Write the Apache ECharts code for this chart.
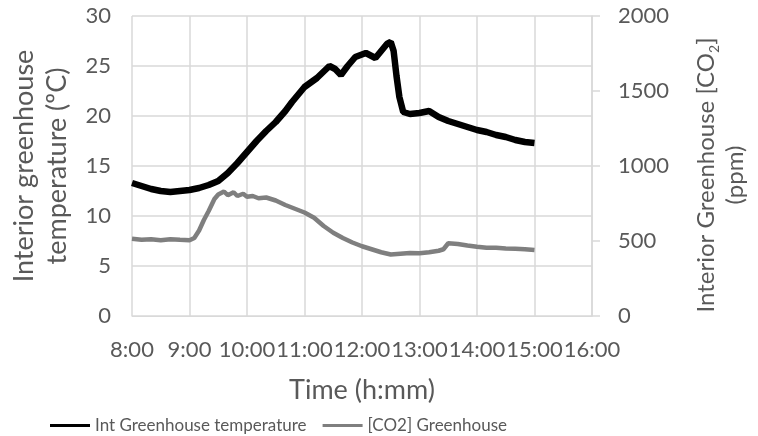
<!DOCTYPE html>
<html>
<head>
<meta charset="utf-8">
<script src="https://cdn.jsdelivr.net/npm/echarts@6/dist/echarts.min.js"></script>
<style>
  html, body { margin: 0; padding: 0; background: #fff; }
  #chart { width: 758px; height: 436px; }
</style>
</head>
<body>
<div id="chart"></div>
<script>
// minutes of the day (8:00 = 480)
var tempTimes = [480, 490, 500, 510, 520, 530, 540, 550, 560, 570, 580, 590, 600, 610, 620, 630, 640, 647, 660, 673,
  686, 692, 698, 705, 713, 724, 734, 740, 746, 750, 753, 756, 759, 763, 770, 780, 790, 800, 810, 820,
  830, 840, 850, 860, 870, 880, 890, 900]
var tempValues = [13.3, 13.0, 12.7, 12.5, 12.4, 12.5, 12.6, 12.8, 13.1, 13.5, 14.3, 15.3, 16.4, 17.5, 18.5, 19.4, 20.5, 21.4, 22.9, 23.8,
  25.0, 24.7, 24.1, 25.0, 25.9, 26.3, 25.8, 26.5, 27.2, 27.4, 26.5, 24.0, 21.9, 20.4, 20.2, 20.3, 20.5, 19.9, 19.5, 19.2,
  18.9, 18.6, 18.4, 18.1, 17.9, 17.6, 17.4, 17.3]

var co2Times = [480, 490, 500, 510, 520, 530, 540, 545, 550, 555, 560, 566, 570, 576, 580, 586, 590, 596, 600, 606,
  612, 620, 630, 640, 650, 660, 670, 680, 690, 700, 710, 720, 730, 740, 750, 760, 770, 780, 790, 800,
  805, 810, 820, 830, 840, 850, 860, 870, 880, 890, 900]
var co2Values = [515, 508, 512, 505, 512, 508, 505, 520, 570, 640, 700, 780, 810, 830, 805, 825, 800, 815, 795, 800,
  785, 790, 770, 740, 715, 690, 655, 600, 555, 520, 490, 465, 445, 425, 410, 415, 420, 418, 425, 435,
  445, 485, 480, 470, 462, 455, 455, 450, 448, 445, 440]

var xTickLabels = ['8:00', '9:00', '10:00', '11:00', '12:00', '13:00', '14:00', '15:00', '16:00']

var textColor = '#595959'
var gridColor = '#d9d9d9'
var font = 'Lato'

function pairs (xs, ys) {
  var out = []
  for (var i = 0; i < xs.length; i++) out.push([xs[i], ys[i]])
  return out
}

var option = {
  animation: false,
  textStyle: { fontFamily: font },
  grid: { left: 126, right: 161, top: 16, bottom: 120 },
  legend: {
    left: 45,
    top: 412,
    icon: 'rect',
    itemWidth: 40,
    itemHeight: 3,
    itemGap: 16,
    textStyle: { fontSize: 17, color: textColor, fontFamily: font },
    data: ['Int Greenhouse temperature', '[CO2] Greenhouse']
  },
  xAxis: {
    type: 'value',
    min: 480,
    max: 960,
    interval: 60,
    name: 'Time (h:mm)',
    nameLocation: 'middle',
    nameGap: 61,
    nameTextStyle: { fontSize: 27, color: textColor },
    axisLine: { show: true, lineStyle: { color: gridColor } },
    axisTick: { show: false },
    splitLine: { show: true, lineStyle: { color: gridColor, width: 1.5 } },
    axisLabel: {
      fontSize: 22,
      color: textColor,
      margin: 23,
      formatter: function (v) { return xTickLabels[(v - 480) / 60] }
    }
  },
  yAxis: [
    {
      type: 'value',
      min: 0,
      max: 30,
      interval: 5,
      name: 'Interior greenhouse\ntemperature (ºC)',
      nameLocation: 'middle',
      nameGap: 58,
      nameTextStyle: { fontSize: 27, color: textColor, lineHeight: 33 },
      axisLine: { show: false },
      axisTick: { show: false },
      splitLine: { show: true, lineStyle: { color: gridColor, width: 1.5 } },
      axisLabel: { fontSize: 22, color: textColor, margin: 21 }
    },
    {
      type: 'value',
      min: 0,
      max: 2000,
      interval: 500,
      position: 'right',
      name: 'Interior Greenhouse [CO{sub|2}]\n(ppm)',
      nameLocation: 'middle',
      nameGap: 100,
      nameTextStyle: {
        fontSize: 24,
        color: textColor,
        lineHeight: 29,
        padding: [0, 18, 0, 0],
        rich: {
          sub: { fontSize: 14, color: textColor, verticalAlign: 'bottom', lineHeight: 29, padding: [10, 0, 0, 0] }
        }
      },
      axisLine: { show: true, lineStyle: { color: gridColor, width: 1.5 } },
      axisTick: { show: true, length: 8, lineStyle: { color: gridColor, width: 1.5 } },
      splitLine: { show: false },
      axisLabel: {
        fontSize: 22,
        color: textColor,
        margin: 26,
        formatter: function (v) { return String(v) }
      }
    }
  ],
  series: [
    {
      name: 'Int Greenhouse temperature',
      type: 'line',
      yAxisIndex: 0,
      showSymbol: false,
      color: '#000000',
      lineStyle: { color: '#000000', width: 6.5 },
      data: pairs(tempTimes, tempValues)
    },
    {
      name: '[CO2] Greenhouse',
      type: 'line',
      yAxisIndex: 1,
      showSymbol: false,
      color: '#7f7f7f',
      lineStyle: { color: '#7f7f7f', width: 4.5 },
      data: pairs(co2Times, co2Values)
    }
  ]
}

var chart = echarts.init(document.getElementById('chart'))
chart.setOption(option)
</script>
</body>
</html>
